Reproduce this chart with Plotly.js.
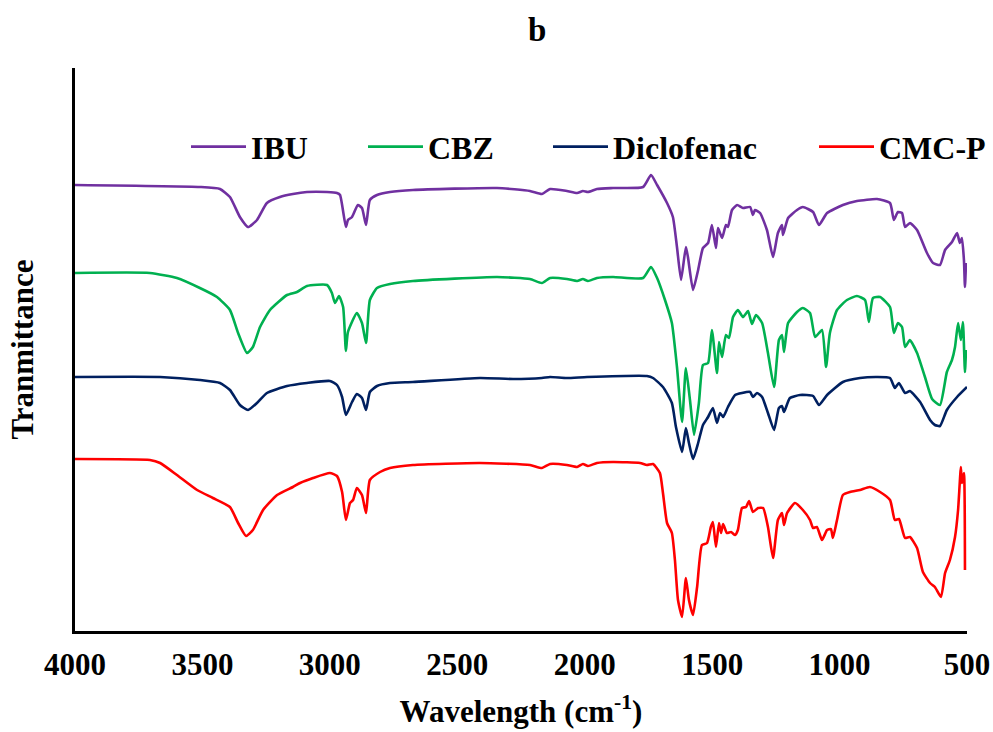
<!DOCTYPE html>
<html>
<head>
<meta charset="utf-8">
<script src="https://cdn.plot.ly/plotly-3.0.1.min.js"></script>
<style>html,body{margin:0;padding:0;background:#fff}#chart{width:993px;height:732px}</style>
</head>
<body>
<div id="chart"></div>
<script>
// Series names and colours
const seriesNames = ['IBU', 'CBZ', 'Diclofenac', 'CMC-P'];
const seriesColors = ['#7030A0', '#00B050', '#002060', '#FF0000'];

// Wavenumber (cm-1) and transmittance (arbitrary units, stacked offsets)
const ibuWn = [4000,3510,3431,3392,3353,3321,3286,3247,3196,3145,3090,3011,2972,2960,2937,2929,2913,2890,2874,2858,2843,2815,2764,2674,2344,2215,2168,2136,2070,2030,2007,1987,1952,1889,1771,1740,1716,1677,1654,1638,1622,1603,1595,1575,1555,1536,1516,1501,1485,1477,1461,1446,1438,1422,1402,1379,1351,1340,1332,1312,1285,1261,1242,1226,1222,1202,1167,1144,1104,1081,1049,987,932,853,802,787,771,755,743,724,696,657,633,606,586,559,539,528,520,512,508,504];
const ibuT  = [446,444,442,434,414,404,411,428,434,437,439,439,438,436,404,411,414,426,423,406,431,436,439,441,443,440,437,442,440,438,440,439,442,443,444,456,446,428,414,384,351,384,374,341,361,383,388,406,383,403,393,406,404,421,426,423,424,416,421,418,401,374,398,406,396,413,421,424,419,406,418,426,430,432,428,411,419,418,404,408,401,378,368,366,381,389,398,388,393,371,344,368];

const cbzWn = [4000,3706,3600,3510,3443,3392,3360,3325,3302,3274,3235,3168,3129,3090,3011,2992,2980,2964,2948,2937,2929,2894,2874,2858,2843,2815,2764,2674,2344,2215,2168,2136,2070,2030,2007,1987,1952,1889,1771,1740,1716,1685,1658,1638,1618,1603,1587,1571,1552,1536,1516,1501,1481,1473,1461,1446,1434,1418,1399,1379,1359,1344,1328,1304,1281,1257,1238,1226,1218,1202,1167,1144,1116,1096,1069,1053,1038,1010,971,932,900,885,869,841,802,787,771,755,743,724,696,665,637,606,579,559,547,535,524,516,508,504];
const cbzT  = [358,358,353,343,334,321,298,278,284,304,321,336,339,345,346,338,328,335,324,280,299,318,308,288,331,343,347,350,354,352,348,353,352,350,352,350,353,354,353,364,353,331,308,264,209,263,231,196,228,266,268,301,258,289,274,296,293,314,321,314,320,307,316,308,278,244,291,296,279,308,319,323,318,294,301,264,298,321,331,335,331,309,333,334,324,298,308,304,284,291,278,254,232,226,259,271,284,308,291,309,259,281];

const dicWn = [4000,3666,3510,3431,3392,3353,3321,3286,3247,3168,3090,3000,2972,2952,2937,2913,2894,2874,2858,2843,2815,2764,2674,2411,2281,2168,2136,2070,1991,1756,1732,1693,1658,1642,1618,1603,1591,1575,1555,1536,1516,1497,1481,1469,1457,1438,1410,1383,1351,1340,1324,1304,1281,1257,1238,1226,1218,1195,1155,1104,1081,1049,987,920,853,802,783,767,743,724,684,645,626,606,579,539,500];
const dicT  = [254,254,251,248,241,226,221,228,238,245,248,250,246,234,216,229,237,233,221,239,245,248,249,253,252,253,254,253,254,255,253,244,228,204,179,203,188,172,188,206,214,223,208,218,214,224,236,238,239,234,238,234,218,201,223,225,219,233,236,235,226,236,249,253,254,253,243,248,238,240,229,211,206,205,221,234,244];

const cmcWn = [4000,3706,3666,3600,3521,3459,3392,3360,3329,3302,3262,3207,3145,3117,3066,3000,2972,2952,2937,2921,2909,2894,2874,2858,2843,2803,2764,2674,2411,2215,2168,2136,2070,2030,2007,1987,1952,1889,1783,1756,1732,1705,1693,1677,1658,1646,1634,1618,1603,1591,1575,1559,1540,1520,1505,1497,1485,1473,1465,1457,1442,1426,1410,1399,1383,1367,1355,1340,1320,1300,1281,1261,1242,1226,1218,1206,1175,1144,1116,1104,1089,1069,1049,1034,1026,1010,987,959,920,881,841,802,783,767,743,724,696,673,645,626,602,586,567,547,535,524,520,512,508];
const cmcT  = [172,171,168,156,141,133,124,108,95,101,121,136,144,148,153,158,155,139,111,128,131,143,136,118,151,159,163,166,168,166,163,167,166,164,167,165,168,169,168,166,167,158,138,108,98,71,31,14,53,31,16,44,86,88,104,109,84,108,98,107,98,99,96,101,123,124,130,119,123,123,104,73,111,118,106,118,128,121,111,103,104,91,101,102,93,111,136,139,141,144,139,131,111,112,93,94,83,59,48,44,34,58,71,94,121,164,148,158,61];

// Axis ticks
const xTickVals = [4000, 3500, 3000, 2500, 2000, 1500, 1000, 500];
const xTickText = ['4000', '3500', '3000', '2500', '2000', '1500', '1000', '500'];

const FONT = 'Liberation Serif, Times New Roman, serif';
const xs = [ibuWn, cbzWn, dicWn, cmcWn];
const ys = [ibuT, cbzT, dicT, cmcT];
const legendIds = ['legend', 'legend2', 'legend3', 'legend4'];

const traces = seriesNames.map((n, i) => ({
  type: 'scatter', mode: 'lines', name: n,
  x: xs[i], y: ys[i],
  line: {color: seriesColors[i], width: 2.6, shape: 'spline', smoothing: 0.5},
  legend: legendIds[i], showlegend: true
}));

const legendPx = [186, 363, 548, 814];
const legendFont = {family: FONT, size: 32, color: '#000', weight: 'bold'};
const layout = {
  width: 993, height: 732,
  margin: {l: 75, r: 26, t: 68, b: 101, autoexpand: false},
  paper_bgcolor: '#fff', plot_bgcolor: '#fff',
  title: {text: 'b', x: 0.541, xref: 'container', y: 0.96, yref: 'container', yanchor: 'middle', xanchor: 'center',
          font: {family: FONT, size: 33, color: '#000', weight: 'bold'}},
  xaxis: {
    range: [4000, 500], tickvals: xTickVals, ticktext: xTickText, automargin: false,
    showgrid: false, zeroline: false, showline: true, linecolor: '#000', linewidth: 3,
    ticks: '', ticklabelstandoff: 4,
    tickfont: {family: FONT, size: 31, color: '#000', weight: 'bold'},
    title: {text: 'Wavelength (cm<sup>-1</sup>)', standoff: 20, font: {family: FONT, size: 31, color: '#000', weight: 'bold'}}
  },
  yaxis: {
    range: [0, 563], showticklabels: false, ticks: '', automargin: false,
    showgrid: false, zeroline: false, showline: true, linecolor: '#000', linewidth: 3,
    title: {text: 'Tranmittance', standoff: 30, font: {family: FONT, size: 31, color: '#000', weight: 'bold'}}
  },
  showlegend: true
};
legendIds.forEach((id, i) => {
  layout[id] = {
    x: (legendPx[i] - 75) / 892, xanchor: 'left', y: 0.86, yanchor: 'middle',
    orientation: 'h', font: legendFont, bgcolor: 'rgba(0,0,0,0)', borderwidth: 0, itemwidth: 55
  };
});

Plotly.newPlot('chart', traces, layout, {displayModeBar: false, staticPlot: true});
</script>
</body>
</html>
